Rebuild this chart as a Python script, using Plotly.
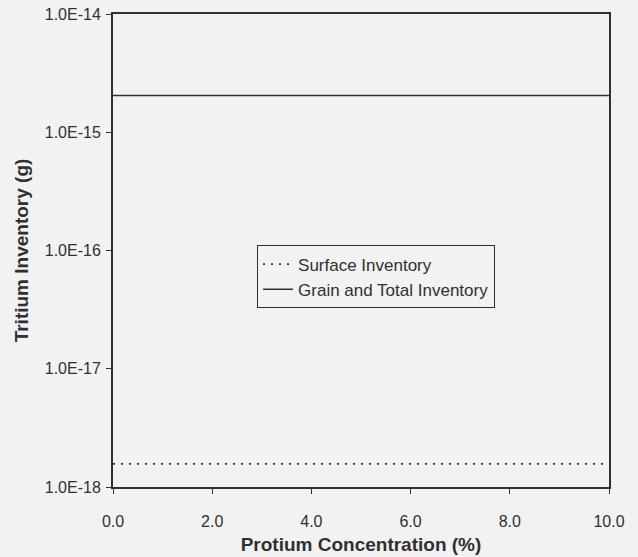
import plotly.graph_objects as go

protium = [0.0, 2.0, 4.0, 6.0, 8.0, 10.0]
surface_inventory = [1.57e-18, 1.57e-18, 1.57e-18, 1.57e-18, 1.57e-18, 1.57e-18]
grain_total_inventory = [2.05e-15, 2.05e-15, 2.05e-15, 2.05e-15, 2.05e-15, 2.05e-15]
x_ticks = [0, 2, 4, 6, 8, 10]
x_ticklabels = ["0.0", "2.0", "4.0", "6.0", "8.0", "10.0"]
y_ticks = [1e-18, 1e-17, 1e-16, 1e-15, 1e-14]
y_ticklabels = ["1.0E-18", "1.0E-17", "1.0E-16", "1.0E-15", "1.0E-14"]

ink = "#303030"
fig = go.Figure()
fig.add_trace(go.Scatter(x=protium, y=surface_inventory, mode="lines",
                         name="Surface Inventory",
                         line=dict(color=ink, width=1.8, dash="2px,6px")))
fig.add_trace(go.Scatter(x=protium, y=grain_total_inventory, mode="lines",
                         name="Grain and Total Inventory",
                         line=dict(color=ink, width=1.5)))

fig.update_layout(
    width=638, height=557,
    margin=dict(l=113, r=29, t=14, b=70),
    paper_bgcolor="#f2f2f2", plot_bgcolor="#f2f2f2",
    font=dict(family="Liberation Sans, Arial, sans-serif", size=16, color=ink),
    legend=dict(x=0.29, y=0.511, xanchor="left", yanchor="top",
                bgcolor="rgba(0,0,0,0)", bordercolor=ink, borderwidth=1.2,
                font=dict(size=17, color=ink), itemwidth=30,
                tracegroupgap=0),
    showlegend=True,
)
fig.update_xaxes(
    range=[0, 10], tickvals=x_ticks, ticktext=x_ticklabels, automargin=False,
    showgrid=False, zeroline=False, showline=True, linecolor=ink, linewidth=2,
    mirror=True, ticks="outside", ticklen=5, tickcolor=ink, tickwidth=1.2,
    tickfont=dict(size=16, color=ink), ticklabelstandoff=14,
    title=dict(text="<b>Protium Concentration (%)</b>", font=dict(size=19, color=ink), standoff=8),
)
fig.update_yaxes(
    type="log", range=[-18, -14], tickvals=y_ticks, ticktext=y_ticklabels, automargin=False,
    showgrid=False, zeroline=False, showline=True, linecolor=ink, linewidth=2,
    mirror=True, ticks="outside", ticklen=5, tickcolor=ink, tickwidth=1.2,
    tickfont=dict(size=16, color=ink), ticklabelstandoff=2,
    title=dict(text="<b>Tritium Inventory (g)</b>", font=dict(size=19, color=ink), standoff=11),
)

fig.write_html("out.html")
